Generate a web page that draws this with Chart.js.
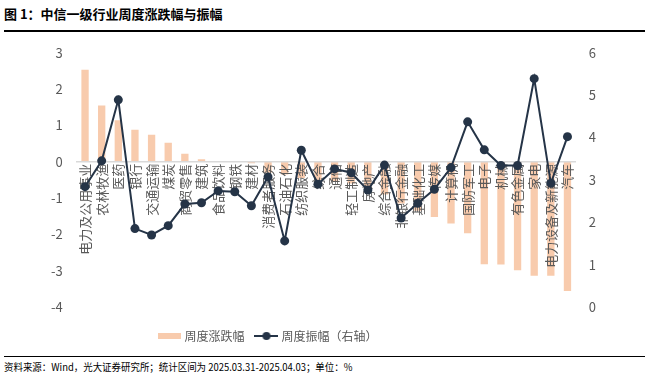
<!DOCTYPE html>
<html lang="zh">
<head>
  <meta charset="UTF-8">
  <title>中信一级行业周度涨跌幅与振幅</title>
  <script src="https://cdn.jsdelivr.net/npm/chart.js"></script>
  <style>
    body { margin: 0; width: 649px; height: 378px; background: #fff; font-family: "Noto Sans CJK SC", sans-serif; overflow: hidden; }
    .title { position: absolute; left: 4px; top: 4px; font-size: 13px; font-weight: bold; color: #000; }
    .rule { position: absolute; left: 4px; width: 641px; background: #000; }
    .box { position: absolute; left: 0; top: 31px; width: 649px; height: 321px; }
    .note { position: absolute; left: 4px; top: 359px; font-size: 10.5px; color: #000; white-space: nowrap;
            transform: scaleX(0.9); transform-origin: left top; }
  </style>
</head>
<body>
  <div class="title">图 1：中信一级行业周度涨跌幅与振幅</div>
  <div class="box"><canvas id="chart"></canvas></div>
  <div class="rule" style="top: 30px; height: 2px;"></div>
  <div class="rule" style="top: 356px; height: 1px;"></div>
  <div class="note">资料来源：Wind，光大证券研究所；统计区间为 2025.03.31-2025.04.03；单位：%</div>

  <script>
    const industries = ['电力及公用事业', '农林牧渔', '医药', '银行', '交通运输', '煤炭', '商贸零售', '建筑',
      '食品饮料', '钢铁', '建材', '消费者服务', '石油石化', '纺织服装', '综合', '通信', '轻工制造', '房地产',
      '综合金融', '非银行金融', '基础化工', '传媒', '计算机', '国防军工', '电子', '机械', '有色金属', '家电',
      '电力设备及新能源', '汽车'];

    // 周度涨跌幅（左轴）
    const weeklyChange = [2.53, 1.55, 1.14, 0.88, 0.74, 0.52, 0.22, 0.07, 0.02, 0.0, -0.04, -0.3, -0.35, -0.45,
      -0.5, -0.55, -0.6, -0.75, -0.9, -1.15, -1.35, -1.52, -1.7, -1.97, -2.82, -2.83, -2.99, -3.14, -3.14, -3.56];

    // 周度振幅（右轴）
    const weeklyAmplitude = [2.84, 3.45, 4.89, 1.85, 1.70, 1.92, 2.43, 2.46, 2.74, 2.72, 2.39, 3.07, 1.56, 3.70,
      2.90, 3.26, 3.17, 2.76, 3.35, 2.10, 2.45, 2.78, 3.29, 4.37, 3.71, 3.34, 3.34, 5.39, 2.92, 4.02];

    const leftTicks = [-4, -3, -2, -1, 0, 1, 2, 3];
    const rightTicks = [0, 1, 2, 3, 4, 5, 6];

    const barColor = '#F8CBAD';
    const lineColor = '#253447';
    const textColor = '#595959';

    // legend swatches
    function barSwatch() {
      const c = document.createElement('canvas');
      c.width = 23; c.height = 6;
      const g = c.getContext('2d');
      g.fillStyle = barColor;
      g.fillRect(0, 0, 23, 6);
      return c;
    }
    function lineSwatch() {
      const c = document.createElement('canvas');
      c.width = 24; c.height = 10;
      const g = c.getContext('2d');
      g.strokeStyle = lineColor;
      g.lineWidth = 2;
      g.beginPath(); g.moveTo(0, 5); g.lineTo(24, 5); g.stroke();
      g.fillStyle = lineColor;
      g.beginPath(); g.arc(12, 5, 4, 0, Math.PI * 2); g.fill();
      return c;
    }
    const swatches = [barSwatch(), lineSwatch()];

    // move legend where the original has it (left of centre, a bit lower)
    const legendShift = {
      id: 'legendShift',
      afterLayout(chart) {
        const lg = chart.legend;
        lg.left -= 54; lg.right -= 54;
        lg.top += 10; lg.bottom += 10;
      }
    };

    // bars < category labels < line
    const lineOnTop = {
      id: 'lineOnTop',
      beforeDatasetDraw(chart, args) {
        if (args.meta.type === 'line') return false;
      },
      afterDraw(chart) {
        chart.getDatasetMeta(1).controller.draw();
      }
    };

    const data = {
      labels: industries,
      datasets: [
        {
          type: 'bar',
          label: '周度涨跌幅',
          data: weeklyChange,
          backgroundColor: barColor,
          yAxisID: 'y',
          categoryPercentage: 0.8,
          barPercentage: 0.55,
          order: 1
        },
        {
          type: 'line',
          label: '周度振幅（右轴）',
          data: weeklyAmplitude,
          borderColor: lineColor,
          backgroundColor: lineColor,
          borderWidth: 2,
          pointRadius: 4.5,
          pointBackgroundColor: lineColor,
          pointBorderWidth: 0,
          tension: 0,
          yAxisID: 'y1',
          order: 0
        }
      ]
    };

    const config = {
      data: data,
      plugins: [legendShift, lineOnTop],
      options: {
        responsive: true,
        maintainAspectRatio: false,
        animation: false,
        layout: { padding: { left: 37, right: 40, top: 5, bottom: 10 } },
        plugins: {
          tooltip: { enabled: false },
          legend: {
            position: 'bottom',
            labels: {
              usePointStyle: true,
              pointStyleWidth: 18,
              color: textColor,
              padding: 13,
              font: { family: 'Noto Sans CJK SC', size: 12 },
              sort: (a, b) => a.datasetIndex - b.datasetIndex,
              generateLabels: function (chart) {
                const items = Chart.defaults.plugins.legend.labels.generateLabels(chart);
                items.forEach(it => { it.pointStyle = swatches[it.datasetIndex]; });
                return items;
              }
            }
          }
        },
        scales: {
          x: {
            position: { y: 0 },
            grid: { display: false, drawTicks: false },
            border: { display: true, color: '#D9D9D9', width: 1.5, z: 1 },
            ticks: {
              z: 1,
              autoSkip: false,
              maxRotation: 90,
              minRotation: 90,
              padding: 2,
              color: textColor,
              font: { family: 'Noto Sans CJK SC', size: 13 }
            }
          },
          y: {
            position: 'left',
            min: leftTicks[0],
            max: leftTicks[leftTicks.length - 1],
            afterBuildTicks: axis => { axis.ticks = leftTicks.map(v => ({ value: v })); },
            grid: { display: false, drawTicks: false },
            border: { display: false },
            ticks: { padding: 14, color: textColor, font: { family: 'Noto Sans CJK SC', size: 13 } }
          },
          y1: {
            position: 'right',
            min: rightTicks[0],
            max: rightTicks[rightTicks.length - 1],
            afterBuildTicks: axis => { axis.ticks = rightTicks.map(v => ({ value: v })); },
            grid: { display: false, drawTicks: false },
            border: { display: false },
            ticks: { padding: 13, color: textColor, font: { family: 'Noto Sans CJK SC', size: 13 } }
          }
        }
      }
    };

    new Chart(document.getElementById('chart'), config);
  </script>
</body>
</html>
